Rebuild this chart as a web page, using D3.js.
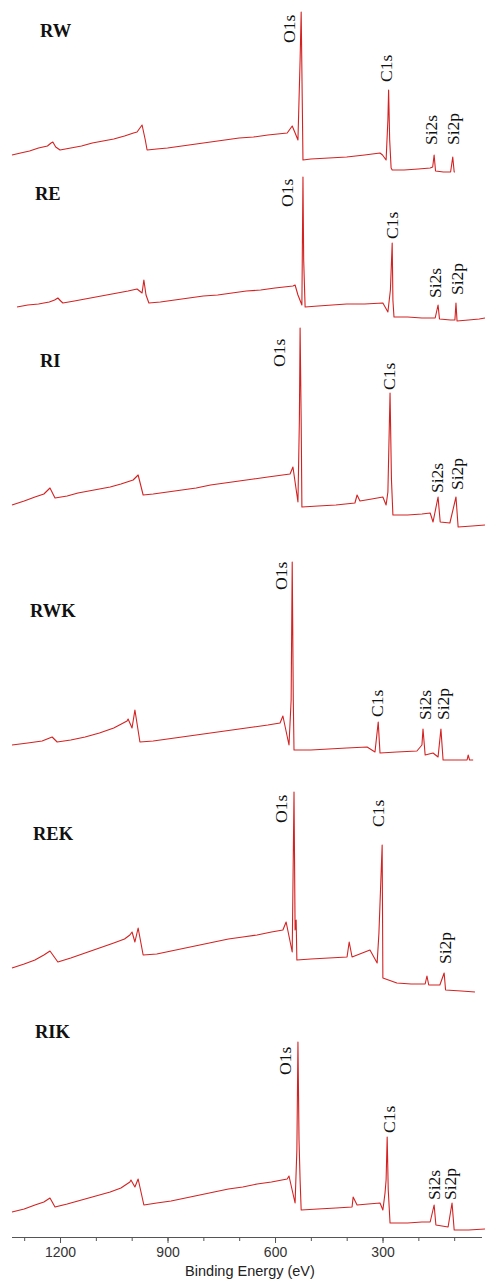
<!DOCTYPE html>
<html>
<head>
<meta charset="utf-8">
<script src="https://d3js.org/d3.v7.min.js"></script>
<style>
  body { margin: 0; background: #fff; }
  svg { display: block; }
</style>
</head>
<body>
<div id="chart"></div>
<script>
// binding energy (eV), intensity (a.u.)
var rwSpectrum = [[1334,20],[1310,22],[1285,24],[1260,27],[1235,29],[1225,32],[1220,33],[1212,28],[1200,25],
  [1170,27],[1140,29],[1110,32],[1080,34],[1050,36],[1020,39],[995,42],[985,43],[977,47],[971,50],[962,35],[957,25],
  [930,26],[900,27],[860,29],[820,31],[780,33],[740,35],[700,37],[660,38],[620,40],[566,42],[552,49],[545,43],[536,35],
  [530,115],[527,163],[524,75],[522,15],[500,16],[450,17],[400,18],[350,20],[307,22],[300,20],[290,15],[285,55],[283,85],
  [280,35],[276,7],[273,5],[240,5],[200,6],[167,7],[160,8],[156,20],[152,4],[130,3],[110,3],[104,18],[100,3],[98,3]];
var reSpectrum = [[1320,18],[1290,20],[1260,21],[1230,23],[1215,25],[1206,27],[1198,24],[1192,22],[1160,24],[1130,26],
  [1100,28],[1070,30],[1040,32],[1010,34],[985,36],[971,32],[966,45],[960,30],[952,22],[920,23],[880,25],[840,27],
  [800,29],[760,30],[720,32],[680,34],[640,35],[600,37],[550,39],[544,40],[536,30],[525,20],[522,148],[520,65],[516,18],
  [480,19],[440,20],[400,21],[350,21],[299,22],[285,13],[278,35],[273,82],[271,25],[268,8],[230,8],[190,7],[153,7],
  [145,20],[141,6],[110,5],[98,5],[95,22],[92,4],[60,5],[30,6],[14,7]];
var riSpectrum = [[1334,25],[1300,29],[1270,33],[1245,36],[1228,42],[1214,32],[1180,34],[1150,37],[1120,39],[1090,41],
  [1060,43],[1030,46],[996,50],[982,55],[968,35],[940,36],[900,38],[860,40],[820,42],[780,45],[740,47],[700,49],
  [660,51],[620,53],[558,56],[550,63],[536,28],[532,110],[530,202],[527,110],[525,23],[480,24],[430,25],[377,27],
  [371,35],[363,29],[330,31],[299,33],[290,25],[285,38],[279,137],[275,50],[271,15],[230,15],[190,16],[167,17],
  [159,8],[145,33],[139,8],[112,7],[95,33],[89,3],[50,4],[14,5]];
var rwkSpectrum = [[1334,20],[1290,22],[1250,24],[1222,28],[1208,23],[1170,25],[1130,28],[1090,32],[1050,37],[1013,44],
  [1010,46],[999,37],[991,55],[977,23],[940,24],[900,26],[860,28],[820,30],[780,32],[740,34],[700,36],[660,38],
  [620,40],[586,42],[578,49],[561,20],[555,65],[552,203],[549,65],[547,15],[500,15],[450,16],[400,17],[343,18],
  [321,13],[312,43],[307,12],[260,13],[204,14],[190,20],[187,36],[181,10],[159,12],[145,8],[137,36],[131,5],
  [100,5],[64,5],[61,10],[57,5],[47,5]];
var rekSpectrum = [[1334,27],[1300,31],[1270,35],[1245,40],[1228,44],[1206,33],[1170,37],[1130,42],[1090,47],[1050,52],
  [1020,56],[1005,60],[999,63],[991,53],[982,67],[968,40],[930,41],[890,44],[850,47],[810,50],[770,53],[730,56],
  [690,58],[650,60],[610,63],[578,65],[569,73],[552,43],[547,203],[544,65],[541,75],[539,35],[500,36],[450,37],
  [399,38],[393,53],[385,38],[335,45],[315,32],[310,62],[301,150],[299,17],[260,12],[220,11],[181,11],[176,19],
  [171,10],[140,10],[128,22],[124,5],[80,4],[42,3]];
var rikSpectrum = [[1334,23],[1300,26],[1270,30],[1245,33],[1228,37],[1214,28],[1180,31],[1140,35],[1100,39],[1060,43],
  [1030,47],[1005,53],[1002,55],[991,48],[982,56],[966,30],[930,32],[890,34],[850,37],[810,40],[770,43],[730,46],
  [690,48],[650,51],[610,53],[566,56],[561,59],[544,32],[539,85],[536,193],[533,95],[530,55],[527,25],[480,26],
  [430,27],[385,28],[382,38],[371,30],[340,31],[307,32],[299,25],[293,42],[290,55],[287,98],[284,45],[279,12],
  [230,12],[190,13],[167,13],[156,30],[151,10],[117,8],[106,32],[100,5],[60,5],[14,6]];

// peak label anchors: [text, energy, intensity]
var rwPeaks  = [["O1s",544,132],["C1s",273,93],["Si2s",148,30],["Si2p",86,30]];
var rePeaks  = [["O1s",550,118],["C1s",257,86],["Si2s",137,27],["Si2p",75,30]];
var riPeaks  = [["O1s",572,163],["C1s",265,140],["Si2s",131,37],["Si2p",75,40]];
var rwkPeaks = [["O1s",566,175],["C1s",299,48],["Si2s",164,45],["Si2p",114,45]];
var rekPeaks = [["O1s",566,172],["C1s",296,168],["Si2p",109,31]];
var rikPeaks = [["O1s",555,160],["C1s",265,102],["Si2s",139,35],["Si2p",95,35]];

var sampleNames = ["RW", "RE", "RI", "RWK", "REK", "RIK"];
var majorTicks = [1200, 900, 600, 300];
var minorTicks = [1300, 1200, 1100, 1000, 900, 800, 700, 600, 500, 400, 300, 200, 100];

var width = 485, height = 1284;

var panels = [
  { data: rwSpectrum,  peaks: rwPeaks,  bottom: 175,  nameX: 40, nameY: 37 },
  { data: reSpectrum,  peaks: rePeaks,  bottom: 325,  nameX: 35, nameY: 200 },
  { data: riSpectrum,  peaks: riPeaks,  bottom: 530,  nameX: 40, nameY: 367 },
  { data: rwkSpectrum, peaks: rwkPeaks, bottom: 765,  nameX: 30, nameY: 617 },
  { data: rekSpectrum, peaks: rekPeaks, bottom: 995,  nameX: 33, nameY: 840 },
  { data: rikSpectrum, peaks: rikPeaks, bottom: 1235, nameX: 35, nameY: 1038 }
];

var svg = d3.select("#chart").append("svg")
    .attr("width", width)
    .attr("height", height);

var x = d3.scaleLinear()
    .domain([1334, 14])
    .range([12, 485]);

panels.forEach(function(p, i) {
    var y = d3.scaleLinear()
        .domain([0, 100])
        .range([p.bottom, p.bottom - 100]);

    var line = d3.line()
        .x(function(d) { return x(d[0]); })
        .y(function(d) { return y(d[1]); });

    var g = svg.append("g").attr("class", "panel");

    g.append("path")
        .datum(p.data)
        .attr("d", line)
        .style("fill", "none")
        .style("stroke", "#d42222")
        .style("stroke-width", 1.1)
        .style("stroke-linejoin", "round");

    g.selectAll("text.peak")
        .data(p.peaks)
        .enter()
        .append("text")
            .attr("class", "peak")
            .text(function(d) { return d[0]; })
            .attr("transform", function(d) { return "translate(" + x(d[1]) + "," + y(d[2]) + ") rotate(-90)"; })
            .style("font-family", "'Liberation Serif', 'Times New Roman', serif")
            .style("font-size", "17.5px")
            .style("fill", "#111");

    g.append("text")
        .text(sampleNames[i])
        .attr("x", p.nameX)
        .attr("y", p.nameY)
        .style("font-family", "'Liberation Serif', 'Times New Roman', serif")
        .style("font-weight", "bold")
        .style("font-size", "18.5px")
        .style("fill", "#111");
});

// bottom energy axis
var axisY = 1237;

var minor = svg.append("g")
    .attr("transform", "translate(0," + axisY + ")")
    .call(d3.axisBottom(x).tickValues(minorTicks).tickSize(4).tickSizeOuter(0).tickFormat(""));
minor.select(".domain").remove();
minor.selectAll("line").style("stroke", "#555");

var axis = svg.append("g")
    .attr("transform", "translate(0," + axisY + ")")
    .call(d3.axisBottom(x).tickValues(majorTicks).tickSize(6).tickSizeOuter(0).tickPadding(4)
        .tickFormat(d3.format("d")));
axis.select(".domain").attr("d", "M12,0.5H482").style("stroke", "#555");
axis.selectAll("line").style("stroke", "#555");
axis.selectAll("text")
    .style("font-family", "'Liberation Sans', Arial, sans-serif")
    .style("font-size", "14px")
    .style("fill", "#333");

svg.append("text")
    .text("Binding Energy (eV)")
    .attr("x", 250)
    .attr("y", 1276)
    .style("text-anchor", "middle")
    .style("font-family", "'Liberation Sans', Arial, sans-serif")
    .style("font-size", "14.5px")
    .style("fill", "#222");
</script>
</body>
</html>
